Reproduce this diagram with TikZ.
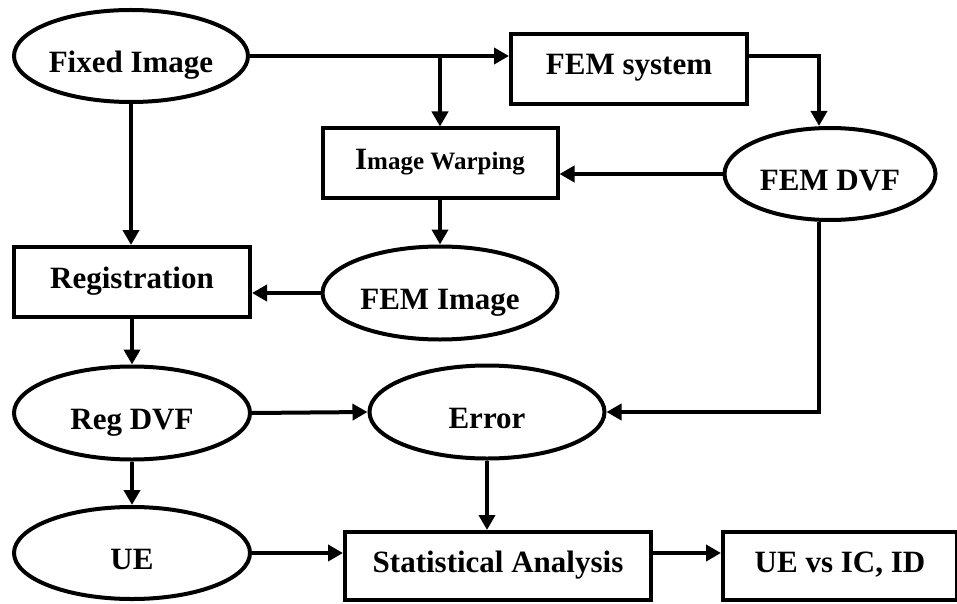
\documentclass[tikz,border=0pt]{standalone}
\usepackage{fontspec}
\setmainfont{Liberation Serif}
\usetikzlibrary{shapes.geometric,arrows.meta}
\tikzset{
  every node/.style={font=\fontsize{31}{36}\selectfont\bfseries, inner sep=0pt},
  oval/.style={draw, ellipse, line width=4pt, text height=33pt, text depth=0pt},
  stepbox/.style={draw, rectangle, line width=4pt, text height=12pt, text depth=0pt},
  flow/.style={line width=4pt, -{Triangle[length=15pt,width=16pt]}}
}
\begin{document}
\begin{tikzpicture}[x=1pt,y=-1pt]
  \useasboundingbox (0,0) rectangle (957,604);

  % processing nodes
  \node[oval, minimum width=234, minimum height=92] (fixed) at (131,56) {Fixed Image};
  \node[stepbox, minimum width=236, minimum height=70] (femsys) at (629,69) {FEM system};
  \node[stepbox, minimum width=235, minimum height=69, text height=14pt] (warp) at (440,163)
    {{\fontsize{31}{36}\selectfont I}{\fontsize{25}{30}\selectfont mage Warping}};
  \node[oval, minimum width=211, minimum height=92] (femdvf) at (830,174) {FEM DVF};
  \node[stepbox, minimum width=236, minimum height=70] (reg) at (132,282) {Registration};
  \node[oval, minimum width=235, minimum height=93] (femimg) at (440,293) {FEM Image};
  \node[oval, minimum width=236, minimum height=93] (regdvf) at (132,413) {Reg DVF};
  \node[oval, minimum width=235, minimum height=93] (error) at (487,412) {Error};
  \node[oval, minimum width=236, minimum height=92] (ue) at (132,553) {UE};
  \node[stepbox, minimum width=306, minimum height=68] (stat) at (498,566) {Statistical Analysis};
  \node[stepbox, minimum width=234, minimum height=68] (uevs) at (840,566) {UE vs IC, ID};

  % junction points of the connectors
  \coordinate (split) at (warp.north |- fixed.east);
  \coordinate (fsout) at (femsys.east |- fixed.east);
  \coordinate (dvftop) at ([xshift=-11pt]femdvf.north);
  \coordinate (dvfbot) at ([xshift=-11pt]femdvf.south);
  \coordinate (statout) at (stat.east |- ue.east);

  % connectors
  \draw[flow] (fixed.east) -- (femsys.west |- fixed.east);
  \draw[flow] (split) -- (warp.north);
  \draw[flow] (fsout) -| (dvftop);
  \draw[flow] (femdvf.west) -- (warp.east |- femdvf.west);
  \draw[flow] (warp.south) -- (femimg.north);
  \draw[flow] (femimg.west) -- (reg.east |- femimg.west);
  \draw[flow] (fixed.south) -- (fixed.south |- reg.north);
  \draw[flow] (reg.south) -- (regdvf.north);
  \draw[flow] (regdvf.east) -- (error.west);
  \draw[flow] (dvfbot) |- (error.east);
  \draw[flow] (error.south) -- (error.south |- stat.north);
  \draw[flow] (regdvf.south) -- (ue.north);
  \draw[flow] (ue.east) -- (stat.west |- ue.east);
  \draw[flow] (statout) -- (uevs.west |- ue.east);
\end{tikzpicture}
\end{document}
